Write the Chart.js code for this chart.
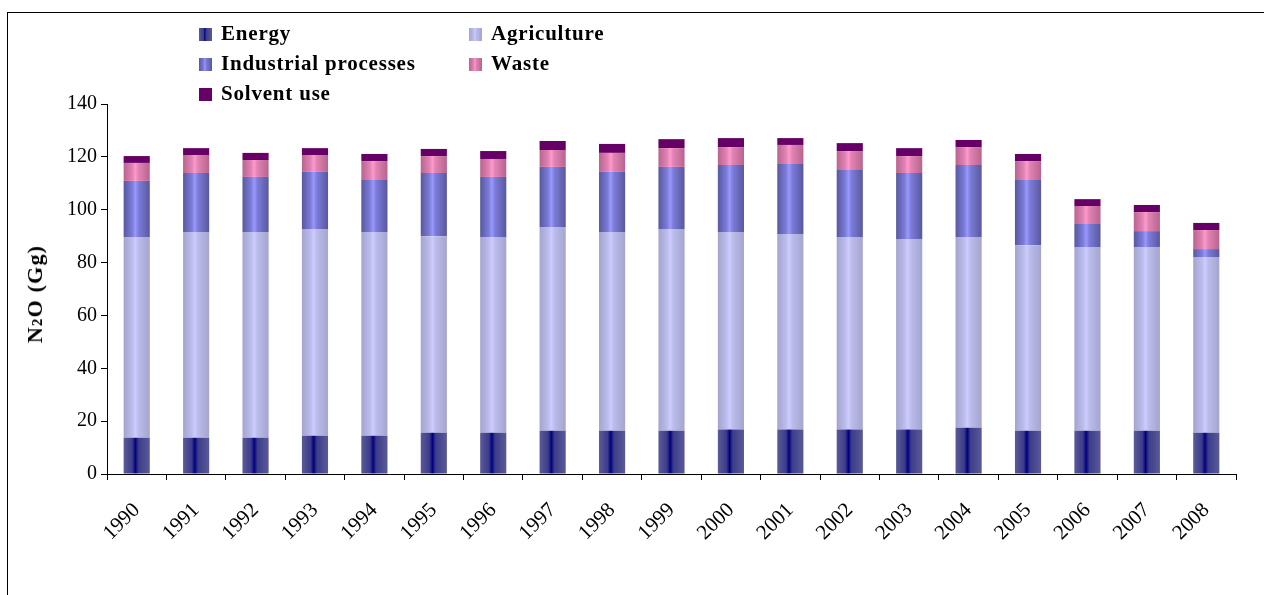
<!DOCTYPE html>
<html>
<head>
<meta charset="utf-8">
<script src="https://cdn.jsdelivr.net/npm/chart.js@4.4.1/dist/chart.umd.min.js"></script>
<style>
    body { margin: 0; width: 1264px; height: 595px; overflow: hidden; position: relative; background: #fff; }
    #frame { position: absolute; left: 7px; top: 12px; width: 1300px; height: 700px; border: 1.5px solid #000; }
    #chart { position: absolute; left: 0; top: 0; }
    .leg { position: absolute; font: bold 21px "Liberation Serif", "Times New Roman", serif; letter-spacing: 0.8px; color: #000; white-space: nowrap; line-height: 20px; }
    .leg i { display: inline-block; width: 13px; height: 13px; margin-right: 9px; vertical-align: -1px; }
    #ytitle { position: absolute; left: 35px; top: 294px; transform: translate(-50%, -50%) rotate(-90deg);
              font: bold 22px "Liberation Serif", "Times New Roman", serif; letter-spacing: 1.2px; white-space: nowrap; }
    #ytitle span { font-size: 15px; }
</style>
</head>
<body>
<div id="frame"></div>
<canvas id="chart" width="1264" height="595"></canvas>
<div id="ytitle">N<span>2</span>O (Gg)</div>

<script>
// Données (Gg N2O)
const years = ['1990', '1991', '1992', '1993', '1994', '1995', '1996', '1997', '1998', '1999',
               '2000', '2001', '2002', '2003', '2004', '2005', '2006', '2007', '2008'];
const energy      = [13.7, 13.7, 13.7, 14.5, 14.5, 15.6, 15.6, 16.4, 16.4, 16.4, 16.8, 16.8, 16.8, 16.8, 17.5, 16.4, 16.4, 16.4, 15.6];
const agriculture = [76.0, 77.9, 77.9, 78.2, 77.1, 74.4, 74.1, 77.1, 75.2, 76.3, 74.8, 74.0, 72.9, 72.1, 72.2, 70.2, 69.5, 69.5, 66.5];
const industrial  = [21.2, 22.3, 20.8, 21.6, 19.6, 23.9, 22.7, 22.7, 22.7, 23.5, 25.3, 26.5, 25.3, 25.0, 27.2, 24.6, 8.7, 6.0, 3.0];
const waste       = [6.8, 6.8, 6.4, 6.4, 7.2, 6.4, 6.8, 6.4, 7.2, 7.1, 6.8, 7.2, 7.2, 6.4, 6.8, 7.2, 6.8, 7.2, 7.2];
const solvent     = [2.6, 2.6, 2.7, 2.6, 2.7, 2.7, 3.0, 3.4, 3.4, 3.4, 3.4, 2.6, 3.0, 3.0, 2.7, 2.7, 2.6, 2.7, 2.7];
const yTicks = [0, 20, 40, 60, 80, 100, 120, 140];

// Couleurs : bord, intermédiaire, centre (dégradé horizontal)
const series = [
    { label: 'Energy',               data: energy,      edge: '#5a5a98', inner: '#3c3c8a', mid: '#000080' },
    { label: 'Agriculture',          data: agriculture, edge: '#a4a4cf', inner: '#bcbcec', mid: '#ccccff' },
    { label: 'Industrial processes', data: industrial,  edge: '#5858a0', inner: '#7c7cd8', mid: '#9999ff' },
    { label: 'Waste',                data: waste,       edge: '#b8648e', inner: '#e083b4', mid: '#ff99cc' },
    { label: 'Solvent use',          data: solvent,     edge: '#660066', inner: '#660066', mid: '#660066' }
];

// Légende en deux colonnes
const legendPos = [[199, 23], [469, 23], [199, 53], [469, 53], [199, 83]];
series.forEach((s, i) => {
    const d = document.createElement('div');
    d.className = 'leg';
    d.style.left = legendPos[i][0] + 'px';
    d.style.top = legendPos[i][1] + 'px';
    d.innerHTML = `<i style="background:linear-gradient(to right, ${s.edge}, ${s.inner} 35%, ${s.mid} 45%, ${s.inner} 55%, ${s.edge})"></i>${s.label}`;
    document.body.appendChild(d);
});

// Dégradé sur chaque barre (copie des options, elles sont partagées)
const gradientPlugin = {
    id: 'barGradient',
    beforeDatasetsDraw(chart) {
        const ctx = chart.ctx;
        chart.data.datasets.forEach((ds, di) => {
            const s = series[di];
            const meta = chart.getDatasetMeta(di);
            meta.data.forEach(el => {
                const { x, width } = el.getProps(['x', 'width'], true);
                const g = ctx.createLinearGradient(x - width / 2, 0, x + width / 2, 0);
                g.addColorStop(0, s.edge);
                g.addColorStop(0.33, s.inner);
                g.addColorStop(0.45, s.mid);
                g.addColorStop(0.57, s.inner);
                g.addColorStop(1, s.edge);
                const opts = Object.assign({}, el.options);
                opts.backgroundColor = g;
                el.options = opts;
            });
        });
    }
};

const serif = "'Liberation Serif', 'Times New Roman', serif";

new Chart(document.getElementById('chart').getContext('2d'), {
    type: 'bar',
    data: {
        labels: years,
        datasets: series.map(s => ({
            label: s.label,
            data: s.data,
            backgroundColor: s.mid,
            borderWidth: 0,
            barPercentage: 0.44,
            categoryPercentage: 1
        }))
    },
    plugins: [gradientPlugin],
    options: {
        responsive: false,
        animation: false,
        layout: { padding: { top: 104, right: 28, bottom: 0, left: 0 } },
        plugins: {
            legend: { display: false },
            tooltip: { enabled: false }
        },
        scales: {
            x: {
                stacked: true,
                afterFit: scale => { scale.height = 121; },
                grid: { offset: true, drawOnChartArea: false, drawTicks: true, tickLength: 6, color: '#000' },
                border: { color: '#000', width: 1 },
                ticks: {
                    color: '#000',
                    font: { family: serif, size: 21 },
                    minRotation: 45,
                    maxRotation: 45,
                    padding: 18
                }
            },
            y: {
                stacked: true,
                min: 0,
                max: 140,
                afterFit: scale => { scale.width = 107; },
                afterBuildTicks: scale => { scale.ticks = yTicks.map(v => ({ value: v })); },
                grid: { drawOnChartArea: false, drawTicks: true, tickLength: 6, color: '#000' },
                border: { color: '#000', width: 1 },
                ticks: {
                    color: '#000',
                    font: { family: serif, size: 20 },
                    padding: 4
                }
            }
        }
    }
});
</script>
</body>
</html>
